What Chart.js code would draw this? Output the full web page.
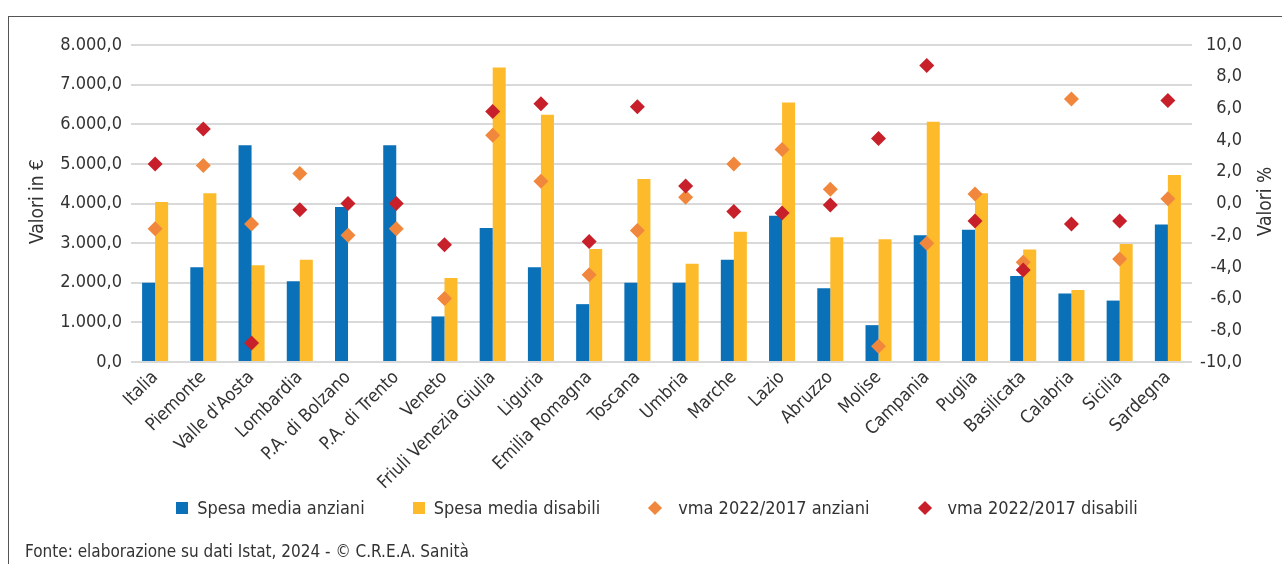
<!DOCTYPE html>
<html>
<head>
<meta charset="utf-8">
<script src="https://cdn.jsdelivr.net/npm/chart.js@4.4.1/dist/chart.umd.min.js"></script>
<style>
  html, body { margin: 0; padding: 0; background: #ffffff; }
  #wrap { position: relative; width: 1282px; height: 564px; overflow: hidden; background: #fff; }
  #frame { position: absolute; left: 8px; top: 16px; width: 1290px; height: 600px;
           border-top: 1.5px solid #555; border-left: 1.5px solid #555; }
  #chart { position: absolute; left: 0; top: 0; }
  .txt { font-family: 'Liberation Sans Narrow', 'DejaVu Sans Condensed', 'Liberation Sans', sans-serif; color: #333; white-space: nowrap; }
  #source { position: absolute; left: 25px; top: 540px; font-size: 17px; line-height: 22px; }
  #legend { position: absolute; left: 0; top: 496px; width: 1314px; height: 24px; display: flex;
            justify-content: center; align-items: center; gap: 48px; font-size: 18px; line-height: 24px; }
  .item { display: flex; align-items: center; }
  .sq { width: 12px; height: 12px; margin-right: 9px; }
  .dm { width: 10px; height: 10px; margin: 0 18px 0 2px; transform: rotate(45deg); }
</style>
</head>
<body>
<div id="wrap">
  <div id="frame"></div>
  <canvas id="chart" width="1282" height="564"></canvas>
  <div id="legend" class="txt"></div>
  <div id="source" class="txt">Fonte: elaborazione su dati Istat, 2024 - © C.R.E.A. Sanità</div>
</div>
<script>
const categories = ['Italia', 'Piemonte', "Valle d'Aosta", 'Lombardia', 'P.A. di Bolzano', 'P.A. di Trento',
  'Veneto', 'Friuli Venezia Giulia', 'Liguria', 'Emilia Romagna', 'Toscana', 'Umbria', 'Marche', 'Lazio',
  'Abruzzo', 'Molise', 'Campania', 'Puglia', 'Basilicata', 'Calabria', 'Sicilia', 'Sardegna'];
const spesaAnziani = [2000, 2390, 5470, 2040, 3910, 5470, 1150, 3380, 2390, 1460, 2000,
  2000, 2580, 3690, 1860, 930, 3200, 3340, 2170, 1730, 1550, 3470];
const spesaDisabili = [4040, 4260, 2440, 2580, null, null, 2120, 7430, 6240, 2850, 4620,
  2480, 3290, 6550, 3150, 3100, 6060, 4260, 2840, 1820, 2980, 4720];
const vmaAnziani = [-1.6, 2.4, -1.3, 1.9, -2.0, -1.6, -6.0, 4.3, 1.4, -4.5, -1.7,
  0.4, 2.5, 3.4, 0.9, -9.0, -2.5, 0.6, -3.7, 6.6, -3.5, 0.3];
const vmaDisabili = [2.5, 4.7, -8.8, -0.4, 0.0, 0.0, -2.6, 5.8, 6.3, -2.4, 6.1,
  1.1, -0.5, -0.6, -0.1, 4.1, 8.7, -1.1, -4.2, -1.3, -1.1, 6.5];
const seriesNames = ['Spesa media anziani', 'Spesa media disabili', 'vma 2022/2017 anziani', 'vma 2022/2017 disabili'];
const seriesColors = ['#0A71B9', '#FDBB2B', '#F0873C', '#C7202A'];
const axisTitles = ['Valori in €', 'Valori %'];

const FONT = "'Liberation Sans Narrow', 'DejaVu Sans Condensed', 'Liberation Sans', sans-serif";
const TXT = '#333333';

function fmtEuro(v) {
  const s = Math.round(v).toString().replace(/\B(?=(\d{3})+(?!\d))/g, '.');
  return s + ',0';
}
function fmtPct(v) {
  const r = Math.round(v * 10) / 10;
  return r.toFixed(1).replace('.', ',');
}

const titlesPlugin = {
  id: 'axisTitles',
  afterDraw(chart) {
    const ctx = chart.ctx;
    const a = chart.chartArea;
    const cy = (a.top + a.bottom) / 2 - 2;
    [[38, axisTitles[0]], [1266, axisTitles[1]]].forEach(([x, t]) => {
      ctx.save();
      ctx.font = '19px ' + FONT;
      ctx.fillStyle = TXT;
      ctx.textAlign = 'center';
      ctx.textBaseline = 'middle';
      ctx.translate(x, cy);
      ctx.rotate(-Math.PI / 2);
      ctx.fillText(t, 0, 0);
      ctx.restore();
    });
  }
};

const chart = new Chart(document.getElementById('chart'), {
  data: {
    labels: categories,
    datasets: [
      { type: 'line', label: seriesNames[3], data: vmaDisabili, yAxisID: 'y1', showLine: false,
        pointStyle: 'rectRot', pointRadius: 7.5, pointHoverRadius: 7.5, backgroundColor: seriesColors[3], borderColor: seriesColors[3], borderWidth: 0, order: 0 },
      { type: 'line', label: seriesNames[2], data: vmaAnziani, yAxisID: 'y1', showLine: false,
        pointStyle: 'rectRot', pointRadius: 7.5, pointHoverRadius: 7.5, backgroundColor: seriesColors[2], borderColor: seriesColors[2], borderWidth: 0, order: 1 },
      { type: 'bar', label: seriesNames[0], data: spesaAnziani, yAxisID: 'y', backgroundColor: seriesColors[0], order: 2,
        categoryPercentage: 0.54, barPercentage: 1.0 },
      { type: 'bar', label: seriesNames[1], data: spesaDisabili, yAxisID: 'y', backgroundColor: seriesColors[1], order: 3,
        categoryPercentage: 0.54, barPercentage: 1.0 }
    ]
  },
  options: {
    responsive: false,
    animation: false,
    layout: { padding: { top: 45, right: 40, bottom: 0, left: 0 } },
    plugins: {
      tooltip: { enabled: false },
      legend: { display: false }
    },
    scales: {
      x: {
        grid: { display: false, drawTicks: false },
        border: { display: false },
        ticks: { font: { family: FONT, size: 18 }, color: TXT, maxRotation: 45, minRotation: 45, padding: 5, autoSkip: false },
        afterFit(scale) { scale.height = 564 - 362; }
      },
      y: {
        position: 'left',
        min: 0, max: 8000,
        grid: { color: '#D9D9D9', lineWidth: 2, drawTicks: false },
        border: { display: false },
        ticks: { stepSize: 1000, font: { family: FONT, size: 18 }, color: TXT, padding: 9, callback: v => fmtEuro(v) },
        afterFit(scale) { scale.width = 131; }
      },
      y1: {
        position: 'right',
        min: -10, max: 10,
        grid: { display: false, drawTicks: false },
        border: { display: false },
        ticks: { stepSize: 2, font: { family: FONT, size: 18 }, color: TXT, padding: 6, crossAlign: 'far', callback: v => fmtPct(v) },
        afterFit(scale) { scale.width = 50; }
      }
    }
  },
  plugins: [titlesPlugin]
});

// legend built from the chart's own datasets, in the reference order
const legendOrder = [2, 3, 1, 0];
const legendEl = document.getElementById('legend');
legendOrder.forEach(i => {
  const ds = chart.data.datasets[i];
  const item = document.createElement('div');
  item.className = 'item';
  const mk = document.createElement('span');
  mk.className = ds.type === 'bar' ? 'sq' : 'dm';
  mk.style.background = ds.backgroundColor;
  const tx = document.createElement('span');
  tx.textContent = ds.label;
  item.appendChild(mk);
  item.appendChild(tx);
  legendEl.appendChild(item);
});
</script>
</body>
</html>
